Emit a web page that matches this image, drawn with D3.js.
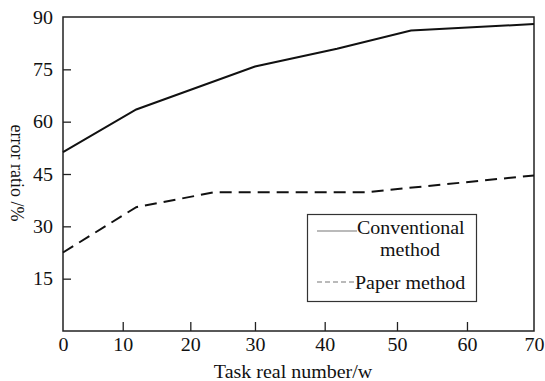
<!DOCTYPE html>
<html>
<head>
<meta charset="utf-8">
<script src="https://cdn.jsdelivr.net/npm/d3@7"></script>
<style>
  html, body { margin: 0; padding: 0; background: #fff; }
  svg { display: block; font-family: "Liberation Serif", "DejaVu Serif", serif; }
</style>
</head>
<body>
<div id="app"></div>
<script>
// chart data
const xTicks = [0, 10, 20, 30, 40, 50, 60, 70];
const yTicks = [15, 30, 45, 60, 75, 90];
const conventionalX = [0, 12, 30, 41.7, 52, 70];
const conventionalY = [51.3, 63.5, 75.8, 80.9, 86.1, 88];
const paperX = [0, 12, 23.8, 45.8, 70];
const paperY = [22.5, 35.5, 39.8, 39.8, 44.6];
const seriesNames = ["Conventional", "Paper method"];

const width = 545, height = 381;
const plotLeft = 63, plotRight = 534, plotTop = 17, plotBottom = 331;
const plotW = plotRight - plotLeft;
const fs = 18;
const stretch = 1.11; // the printed type is a little wide

// the printed x axis is not evenly spaced, so map each tick separately
const tickFrac = [0, 0.1268, 0.2703, 0.4076, 0.5556, 0.7091, 0.8577, 1];
const x = d3.scaleLinear().domain(xTicks).range(tickFrac.map(f => plotLeft + f * plotW));
const y = d3.scaleLinear().domain([0, 90]).range([plotBottom, plotTop]);

const svg = d3.select("#app").append("svg")
  .attr("width", width).attr("height", height);

// horizontal text helper, stretched around its anchor point
const label = (px, py, txt, anchor) =>
  svg.append("g").attr("transform", `translate(${px},${py}) scale(${stretch},1)`)
    .append("text").attr("text-anchor", anchor || "start")
    .attr("font-size", fs).attr("fill", "#111").text(txt);

// inward ticks
const xAxis = d3.axisBottom(x).tickValues(xTicks).tickSize(-9).tickSizeOuter(0).tickFormat(d3.format("d"));
const gx = svg.append("g").attr("transform", `translate(0,${plotBottom})`).call(xAxis);
gx.select(".domain").remove();
gx.selectAll(".tick line").attr("stroke", "#222").attr("stroke-width", 1.3)
  .filter(d => d === 0 || d === 70).remove();
gx.selectAll(".tick text").attr("y", 20).attr("dy", 0).attr("font-size", fs)
  .attr("font-family", "Liberation Serif").attr("fill", "#111")
  .attr("transform", `scale(${stretch},1)`);

const yAxis = d3.axisLeft(y).tickValues(yTicks).tickSize(-8).tickSizeOuter(0);
const gy = svg.append("g").attr("transform", `translate(${plotLeft},0)`).call(yAxis);
gy.select(".domain").remove();
gy.selectAll(".tick line").attr("stroke", "#222").attr("stroke-width", 1.3)
  .filter(d => d === 90).remove();
gy.selectAll(".tick text").attr("x", -10 / stretch).attr("dy", "0.34em").attr("font-size", fs)
  .attr("font-family", "Liberation Serif").attr("fill", "#111")
  .attr("transform", `scale(${stretch},1)`);

// frame
svg.append("rect")
  .attr("x", plotLeft).attr("y", plotTop)
  .attr("width", plotW).attr("height", plotBottom - plotTop)
  .attr("fill", "none").attr("stroke", "#222").attr("stroke-width", 1.5);

const line = d3.line().x(d => x(d[0])).y(d => y(d[1]));

svg.append("path")
  .datum(d3.zip(conventionalX, conventionalY))
  .attr("d", line)
  .attr("fill", "none").attr("stroke", "#111").attr("stroke-width", 2);

svg.append("path")
  .datum(d3.zip(paperX, paperY))
  .attr("d", line)
  .attr("fill", "none").attr("stroke", "#111").attr("stroke-width", 2)
  .attr("stroke-dasharray", "12,7");

// axis titles
label(293, 378, "Task real number/w", "middle");

svg.append("text")
  .attr("transform", "translate(11,173) rotate(90)")
  .attr("text-anchor", "middle").attr("font-size", fs).attr("fill", "#111")
  .text("error ratio /%");

// legend
svg.append("rect")
  .attr("x", 307.5).attr("y", 214.5).attr("width", 169).attr("height", 87)
  .attr("fill", "#fff").attr("stroke", "#333").attr("stroke-width", 1.2);
svg.append("line")
  .attr("x1", 317).attr("x2", 357).attr("y1", 231).attr("y2", 231)
  .attr("stroke", "#777").attr("stroke-width", 1.2);
label(357, 234, seriesNames[0]);
label(410, 256, "method", "middle");
svg.append("line")
  .attr("x1", 317).attr("x2", 355).attr("y1", 282).attr("y2", 282)
  .attr("stroke", "#777").attr("stroke-width", 1.2).attr("stroke-dasharray", "5,3");
label(355, 289, seriesNames[1]);
</script>
</body>
</html>
